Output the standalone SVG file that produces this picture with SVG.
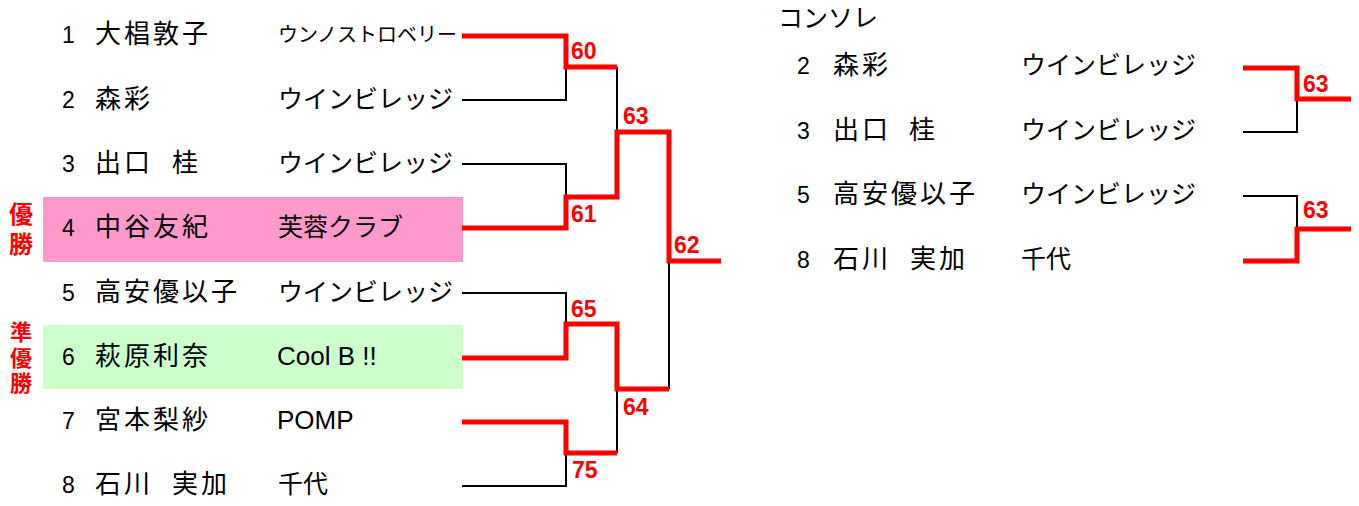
<svg xmlns="http://www.w3.org/2000/svg" width="1359" height="506" viewBox="0 0 1359 506">
<style>
.num{font-family:"Liberation Sans","Noto Sans CJK JP",sans-serif;font-size:23px;fill:#000}
.name{font-family:"Noto Sans CJK JP",sans-serif;font-size:26px;letter-spacing:3px;fill:#000}
.team{font-family:"Noto Sans CJK JP",sans-serif;font-size:25px;fill:#000}
.lat{font-family:"Liberation Sans","Noto Sans CJK JP",sans-serif;font-size:26px;fill:#000}
.small{font-family:"Noto Sans CJK JP",sans-serif;font-size:20px;fill:#000}
.score{font-family:"Liberation Sans",sans-serif;font-weight:bold;font-size:23px;fill:#FF0000}
.award{font-family:"Noto Sans CJK JP",sans-serif;font-weight:bold;fill:#FF0000;text-anchor:middle}
.red{fill:none;stroke:#FF0000;stroke-width:5;stroke-linejoin:miter;stroke-linecap:butt}
.blk{fill:none;stroke:#000;stroke-width:2;stroke-linejoin:miter;stroke-linecap:butt}
</style>
<rect x="43" y="197" width="420" height="65" fill="#FF99CC"/>
<rect x="43" y="325" width="420" height="64" fill="#CCFFCC"/>
<g id="award-winner"><text class="award" font-size="24" x="21" y="223">優</text><text class="award" font-size="24" x="21" y="253">勝</text></g>
<g id="award-runnerup"><text class="award" font-size="22" x="21" y="340">準</text><text class="award" font-size="22" x="21" y="366">優</text><text class="award" font-size="22" x="21" y="391">勝</text></g>
<g id="p1"><text class="num" x="62" y="43">1</text><text class="name" x="95" y="43">大椙敦子</text><text class="small" x="278" y="42">ウンノストロベリー</text></g>
<g id="p2"><text class="num" x="62" y="107.5">2</text><text class="name" x="95" y="107.5">森彩</text><text class="team" x="278" y="107.5">ウインビレッジ</text></g>
<g id="p3"><text class="num" x="62" y="172">3</text><text class="name" x="95" y="172">出口 <tspan x="172">桂</tspan></text><text class="team" x="278" y="172">ウインビレッジ</text></g>
<g id="p4"><text class="num" x="62" y="236">4</text><text class="name" x="95" y="236">中谷友紀</text><text class="team" x="278" y="236">芙蓉クラブ</text></g>
<g id="p5"><text class="num" x="62" y="300.5">5</text><text class="name" x="95" y="300.5">高安優以子</text><text class="team" x="278" y="300.5">ウインビレッジ</text></g>
<g id="p6"><text class="num" x="62" y="364.5">6</text><text class="name" x="95" y="364.5">萩原利奈</text><text class="lat" x="277" y="364.5">Cool B !!</text></g>
<g id="p7"><text class="num" x="62" y="428.5">7</text><text class="name" x="95" y="428.5">宮本梨紗</text><text class="lat" x="277" y="428.5">POMP</text></g>
<g id="p8"><text class="num" x="62" y="493">8</text><text class="name" x="95" y="493">石川 <tspan x="172">実加</tspan></text><text class="team" x="278" y="493">千代</text></g>
<g id="consolation-title"><text class="team" font-size="21" x="778" y="27">コンソレ</text></g>
<g id="c2"><text class="num" x="797" y="74">2</text><text class="name" x="833" y="74">森彩</text><text class="team" x="1021" y="74">ウインビレッジ</text></g>
<g id="c3"><text class="num" x="797" y="139">3</text><text class="name" x="833" y="139">出口 <tspan x="909">桂</tspan></text><text class="team" x="1021" y="139">ウインビレッジ</text></g>
<g id="c5"><text class="num" x="797" y="203">5</text><text class="name" x="833" y="203">高安優以子</text><text class="team" x="1021" y="203">ウインビレッジ</text></g>
<g id="c8"><text class="num" x="797" y="268">8</text><text class="name" x="833" y="268">石川 <tspan x="910">実加</tspan></text><text class="team" x="1021" y="268">千代</text></g>
<g id="connectors">
<path class="blk" d="M462,100H566V67"/>
<path class="blk" d="M462,164H566V197"/>
<path class="blk" d="M617,67V132"/>
<path class="blk" d="M462,293H566V324"/>
<path class="blk" d="M462,486H566V453"/>
<path class="blk" d="M617,453V389"/>
<path class="blk" d="M669,389V261"/>
<path class="red" d="M462,36H566V67H617"/>
<path class="red" d="M462,228H566V197H617V132H669V261H721"/>
<path class="red" d="M462,358H566V324H617V389H669"/>
<path class="red" d="M462,422H566V453H617"/>
<path class="blk" d="M1243,132H1297V99"/>
<path class="blk" d="M1243,196H1297V229"/>
<path class="red" d="M1243,68H1297V99H1351"/>
<path class="red" d="M1243,261H1297V229H1351"/>
</g>
<g id="scores">
<text class="score" x="571" y="59">60</text>
<text class="score" x="623" y="124">63</text>
<text class="score" x="571" y="221.5">61</text>
<text class="score" x="674" y="252.5">62</text>
<text class="score" x="571" y="316.5">65</text>
<text class="score" x="623" y="415">64</text>
<text class="score" x="572" y="478">75</text>
<text class="score" x="1303" y="92">63</text>
<text class="score" x="1303" y="218">63</text>
</g>
</svg>
